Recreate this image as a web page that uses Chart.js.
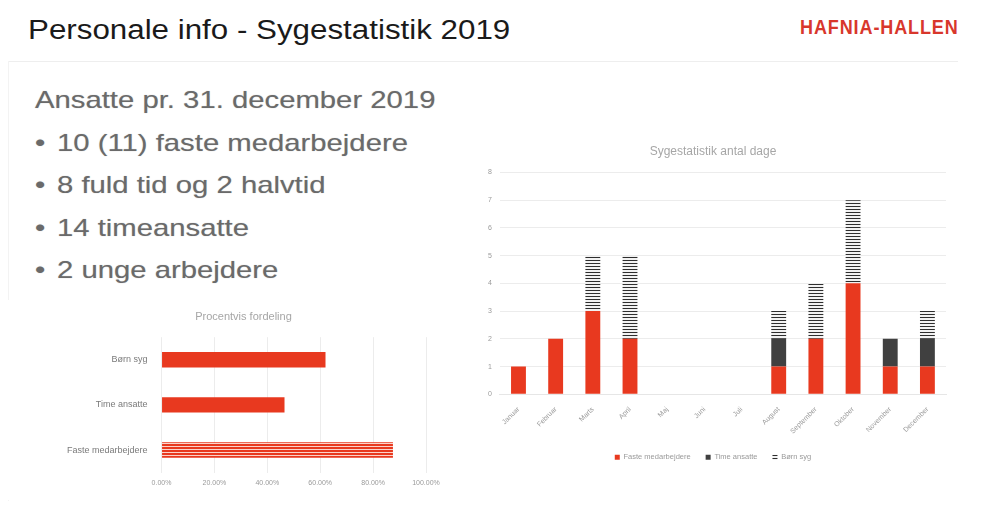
<!DOCTYPE html>
<html>
<head>
<meta charset="utf-8">
<script src="https://cdn.jsdelivr.net/npm/chart.js@4.4.1/dist/chart.umd.min.js"></script>
<style>
  html, body { margin: 0; padding: 0; background: #fff; }
  body { width: 988px; height: 518px; position: relative; overflow: hidden; font-family: "Liberation Sans", Arial, sans-serif; }
  #title { position: absolute; left: 28px; top: 15px; font-size: 27px; color: #1a1a1a; white-space: nowrap; transform: scaleX(1.16); transform-origin: left top; }
  #logo { position: absolute; left: 800px; top: 16px; font-weight: bold; font-size: 20px; color: #d8372c; letter-spacing: 1px; white-space: nowrap; transform: scaleX(0.9); transform-origin: left top; }
  #rule { position: absolute; left: 8px; top: 61px; width: 950px; height: 1px; background: #eeeeee; }
  #frame { position: absolute; left: 8px; top: 61px; width: 950px; height: 440px; border-left: 1px solid #f3f3f3; }
  #info { position: absolute; left: 35px; top: 79px; color: #6a6a6a; font-size: 24px; line-height: 42.5px; text-shadow: 0 0 1px #bbb; transform: scaleX(1.22); transform-origin: left top; white-space: nowrap; }
  #info .b { display: inline-block; width: 18px; }
  #right { position: absolute; left: 480px; top: 140px; width: 482px; height: 332px; }
  #left { position: absolute; left: 6px; top: 300px; width: 464px; height: 200px; background: #fff; }
</style>
</head>
<body>
<div id="title">Personale info - Sygestatistik 2019</div>
<div id="logo">HAFNIA-HALLEN</div>
<div id="rule"></div>
<div id="frame"></div>
<div id="info">
  <div>Ansatte pr. 31. december 2019</div>
  <div><span class="b">•</span>10 (11) faste medarbejdere</div>
  <div><span class="b">•</span>8 fuld tid og 2 halvtid</div>
  <div><span class="b">•</span>14 timeansatte</div>
  <div><span class="b">•</span>2 unge arbejdere</div>
</div>
<div id="left"><canvas id="pctChart"></canvas></div>
<div id="right"><canvas id="dayChart"></canvas></div>
<script>
// Data
const months = ["Januar", "Februar", "Marts", "April", "Maj", "Juni", "Juli", "August", "September", "Oktober", "November", "December"];
const fasteDays = [1, 2, 3, 2, 0, 0, 0, 1, 2, 4, 1, 1];
const timeDays  = [0, 0, 0, 0, 0, 0, 0, 1, 0, 0, 1, 1];
const boernDays = [0, 0, 2, 3, 0, 0, 0, 1, 2, 3, 0, 1];
const dayTicks  = [0, 1, 2, 3, 4, 5, 6, 7, 8];

const pctLabels = ["Børn syg", "Time ansatte", "Faste medarbejdere"];
const pctValues = [0.62, 0.465, 0.875];
const pctTicks  = [0, 0.2, 0.4, 0.6, 0.8, 1.0];

const RED = "#e8391f";
const DARK = "#404040";

// horizontal stripe pattern, looks like the washed-out fill in the slide
function stripes(fg, bg, period, lineH) {
  const c = document.createElement("canvas");
  c.width = 4; c.height = period;
  const g = c.getContext("2d");
  g.fillStyle = bg; g.fillRect(0, 0, 4, period);
  g.fillStyle = fg; g.fillRect(0, 0, 4, lineH);
  return g.createPattern(c, "repeat");
}
const greyStripes = stripes("#2e2e2e", "#f2f2f2", 3, 1);
const redStripes  = stripes(RED, "#fbd3cb", 3, 2);

Chart.defaults.font.family = "'Liberation Sans', Arial, sans-serif";
Chart.defaults.color = "#8c8c8c";
Chart.defaults.animation = false;

// Right: stacked days per month
new Chart(document.getElementById("dayChart"), {
  type: "bar",
  data: {
    labels: months,
    datasets: [
      { label: "Faste medarbejdere", data: fasteDays, backgroundColor: RED },
      { label: "Time ansatte", data: timeDays, backgroundColor: DARK },
      { label: "Børn syg", data: boernDays, backgroundColor: greyStripes }
    ]
  },
  options: {
    responsive: true,
    maintainAspectRatio: false,
    layout: { padding: { left: 0, right: 16, top: 2, bottom: 1 } },
    datasets: { bar: { barPercentage: 0.5, categoryPercentage: 0.8 } },
    plugins: {
      title: { display: true, text: "Sygestatistik antal dage", color: "#a6a6a6", font: { size: 12, weight: "normal" }, padding: { top: 2, bottom: 14 } },
      legend: { position: "bottom", labels: { boxWidth: 5, boxHeight: 5, font: { size: 7.5 }, color: "#9a9a9a", padding: 15 } },
      tooltip: { enabled: false }
    },
    scales: {
      x: {
        stacked: true,
        grid: { display: false },
        border: { display: true, color: "#e6e6e6" },
        ticks: { font: { size: 7 }, color: "#9a9a9a", minRotation: 45, maxRotation: 45, autoSkip: false }
      },
      y: {
        stacked: true,
        min: 0, max: dayTicks[dayTicks.length - 1],
        afterBuildTicks: ax => { ax.ticks = dayTicks.map(v => ({ value: v })); },
        grid: { color: "#ececec", drawTicks: false },
        border: { display: false },
        ticks: { font: { size: 7 }, color: "#9a9a9a", padding: 8 }
      }
    }
  }
});

// Left: share per group
new Chart(document.getElementById("pctChart"), {
  type: "bar",
  data: {
    labels: pctLabels,
    datasets: [{ data: pctValues, backgroundColor: [RED, RED, redStripes] }]
  },
  options: {
    indexAxis: "y",
    responsive: true,
    maintainAspectRatio: false,
    layout: { padding: { left: 55, right: 44, top: 2, bottom: 7 } },
    datasets: { bar: { barPercentage: 0.34, categoryPercentage: 1 } },
    plugins: {
      title: { display: true, text: "Procentvis fordeling", color: "#a6a6a6", font: { size: 11, weight: "normal" }, padding: { top: 8, bottom: 14 } },
      legend: { display: false },
      tooltip: { enabled: false }
    },
    scales: {
      x: {
        min: 0, max: 1,
        afterBuildTicks: ax => { ax.ticks = pctTicks.map(v => ({ value: v })); },
        grid: { color: "#ececec", drawTicks: false },
        border: { display: false },
        ticks: { font: { size: 7 }, color: "#9a9a9a", padding: 6, callback: v => (v * 100).toFixed(2) + "%" }
      },
      y: {
        grid: { display: false },
        border: { display: false },
        ticks: { font: { size: 9 }, color: "#7a7a7a", padding: 6 }
      }
    }
  }
});
</script>
</body>
</html>
